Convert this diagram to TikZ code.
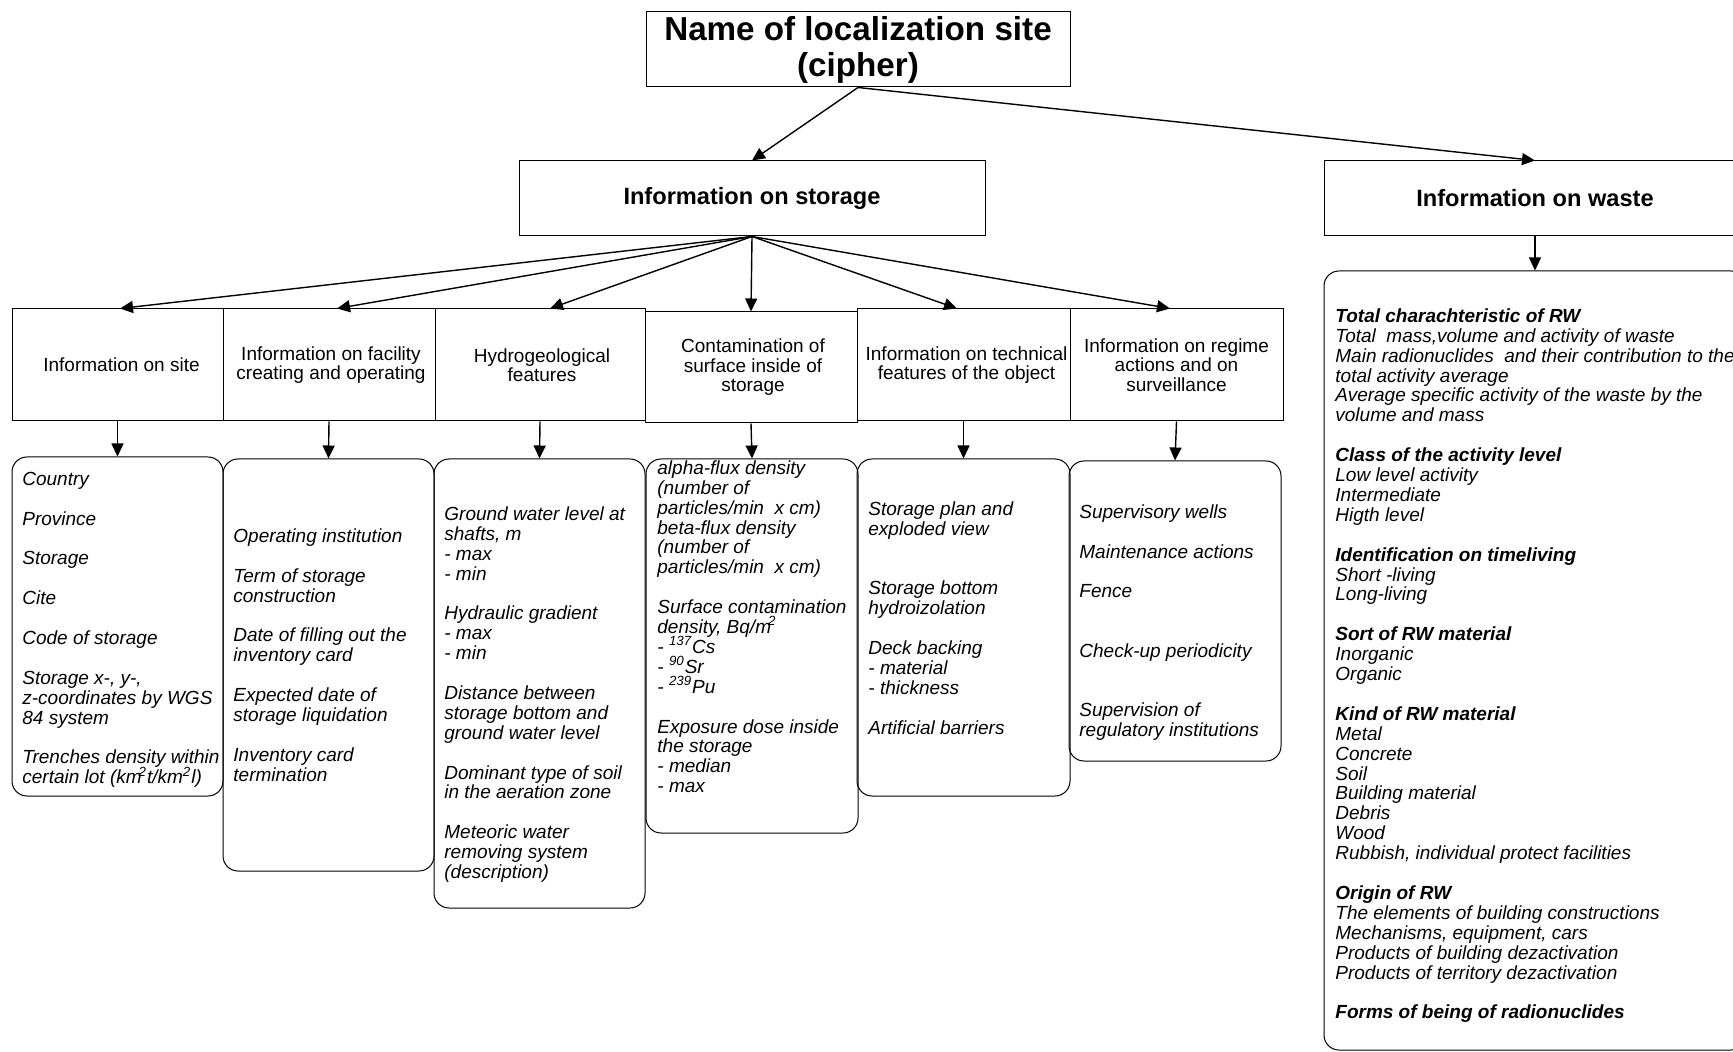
\documentclass[tikz,border=0pt]{standalone}
\usepackage{fontspec}
\setmainfont{Liberation Sans}
\usetikzlibrary{arrows.meta}
\newcommand{\supx}[1]{\smash{\textsuperscript{#1}}}
\begin{document}
\begin{tikzpicture}[x=0.5pt,y=-0.5pt,
  box/.style={draw, line width=0.5pt, inner sep=0pt, align=center},
  rbox/.style={draw, line width=0.5pt, inner sep=0pt, rounded corners=7.5pt},
  lbl/.style={font=\fontsize{9.5}{9.75}\selectfont},
  det/.style={anchor=north west, inner sep=0pt, align=left, font=\itshape\fontsize{9.5}{9.95}\selectfont},
  arr/.style={-{Triangle[length=6.5pt,width=6pt]}, line width=0.7pt}]
\clip (0,0) rectangle (1733,1052);
\fill[white] (0,0) rectangle (1733,1052);
% top level
\node[box, minimum width=212pt, minimum height=37.5pt, font=\bfseries\fontsize{16.6}{18}\selectfont] (top) at (858,49.5) {Name of localization site\\(cipher)};
\node[box, minimum width=233pt, minimum height=37.5pt, font=\bfseries\fontsize{11.8}{14}\selectfont] (stor) at (752,198.5) {Information on storage};
\node[box, minimum width=211pt, minimum height=37.5pt, font=\bfseries\fontsize{11.8}{14}\selectfont] (waste) at (1535,198.5) {Information on waste};
% row boxes
\node[box, lbl, minimum width=105.5pt, minimum height=56pt] (b1) at (117.5,365) {\hspace*{4pt}Information on site};
\node[box, lbl, minimum width=106pt, minimum height=56pt] (b2) at (329,365) {\hspace*{2pt}Information on facility\\\hspace*{2pt}creating and operating};
\node[box, lbl, minimum width=105pt, minimum height=56pt] (b3) at (540,365) {\hspace*{2pt}Hydrogeological\\\hspace*{2pt}features};
\node[box, lbl, minimum width=106pt, minimum height=55.5pt] (b4) at (751,367.5) {\hspace*{2pt}Contamination of\\\hspace*{2pt}surface inside of\\\hspace*{2pt}storage};
\node[box, lbl, minimum width=106.5pt, minimum height=56pt] (b5) at (963.5,365) {\hspace*{3pt}Information on technical\\\hspace*{3pt}features of the object};
\node[box, lbl, minimum width=106.5pt, minimum height=56pt] (b6) at (1176.5,365) {Information on regime\\actions and on\\surveillance};
% detail boxes
\node[rbox, minimum width=105.5pt, minimum height=169.5pt] (d1) at (117.5,626.5) {};
\node[rbox, minimum width=105.5pt, minimum height=206pt] (d2) at (328.5,665) {};
\node[rbox, minimum width=105.5pt, minimum height=224.5pt] (d3) at (539.5,683.5) {};
\node[rbox, minimum width=106pt, minimum height=187pt] (d4) at (752,646) {};
\node[rbox, minimum width=106.5pt, minimum height=168.5pt] (d5) at (963.5,627.5) {};
\node[rbox, minimum width=106pt, minimum height=150pt] (d6) at (1175,611) {};
\node[rbox, minimum width=211pt, minimum height=389.5pt] (dw) at (1535,660.5) {};
% connectors
\draw[arr] (top.south) -- (stor.north);
\draw[arr] (top.south) -- (waste.north);
\draw[arr] (stor.south) -- ([xshift=1.25pt]b1.north);
\draw[arr] (stor.south) -- ([xshift=4pt]b2.north);
\draw[arr] (stor.south) -- ([xshift=5pt]b3.north);
\draw[arr] (stor.south) -- (b4.north);
\draw[arr] (stor.south) -- ([xshift=-3.25pt]b5.north);
\draw[arr] (stor.south) -- ([xshift=-3.25pt]b6.north);
\draw[arr] (b1.south) -- (d1.north);
\draw[arr] (b2.south) -- (d2.north);
\draw[arr] (b3.south) -- (d3.north);
\draw[arr] (b4.south) -- (d4.north);
\draw[arr] (b5.south) -- (d5.north);
\draw[arr] (b6.south) -- (d6.north);
\draw[arr] (waste.south) -- (dw.north);
% detail texts
\node[det] (t1) at (22,471) {\strut Country\\[9.95pt] Province\\[9.95pt] Storage\\[9.95pt] Cite\\[9.95pt] Code of storage\\[9.95pt] Storage x-, y-,\\ z-coordinates by WGS\\ 84 system\\[9.95pt] Trenches density within\\ certain lot (km\kern-1.5pt\supx{2}t/km\supx{2}l)};
\node[det] (t2) at (233,528) {\strut Operating institution\\[9.95pt] Term of storage\\ construction\\[9.95pt] Date of filling out the\\ inventory card\\[9.95pt] Expected date of\\ storage liquidation\\[9.95pt] Inventory card\\ termination};
\node[det] (t3) at (444,506) {\strut Ground water level at\\ shafts, m\\ - max\\ - min\\[9.95pt] Hydraulic gradient\\ - max\\ - min\\[9.95pt] Distance between\\ storage bottom and\\ ground water level\\[9.95pt] Dominant type of soil\\ in the aeration zone\\[9.95pt] Meteoric water\\ removing system\\ (description)};
\node[det] (t4) at (657,460) {\strut alpha-flux density\\ (number of\\ particles/min~~x cm)\\ beta-flux density\\ (number of\\ particles/min~~x cm)\\[9.95pt] Surface contamination\\ density, Bq/m\kern-1.5pt\supx{2}\\ - \supx{137}Cs\\ - \supx{90}Sr\\ - \supx{239}Pu\\[9.95pt] Exposure dose inside\\ the storage\\ - median\\ - max};
\node[det] (t5) at (868,501) {\strut Storage plan and\\ exploded view\\[19.9pt] Storage bottom\\ hydroizolation\\[9.95pt] Deck backing\\ - material\\ - thickness\\[9.95pt] Artificial barriers};
\node[det] (t6) at (1079,504) {\strut Supervisory wells\\[9.95pt] Maintenance actions\\[9.95pt] Fence\\[19.9pt] Check-up periodicity\\[19.5pt] Supervision of\\ regulatory institutions};
\node[det] (tw) at (1335,308) {\strut\textbf{Total charachteristic of RW}\\ Total~~mass,volume and activity of waste\\ Main radionuclides~~and their contribution to the\\ total activity average\\ Average specific activity of the waste by the\\ volume and mass\\[9.95pt] \textbf{Class of the activity level}\\ Low level activity\\ Intermediate\\ Higth level\\[9.95pt] \textbf{Identification on timeliving}\\ Short -living\\ Long-living\\[9.95pt] \textbf{Sort of RW material}\\ Inorganic\\ Organic\\[9.95pt] \textbf{Kind of RW material}\\ Metal\\ Concrete\\ Soil\\ Building material\\ Debris\\ Wood\\ Rubbish, individual protect facilities\\[9.95pt] \textbf{Origin of RW}\\ The elements of building constructions\\ Mechanisms, equipment, cars\\ Products of building dezactivation\\ Products of territory dezactivation\\[9.95pt] \textbf{Forms of being of radionuclides}};
\end{tikzpicture}
\end{document}
